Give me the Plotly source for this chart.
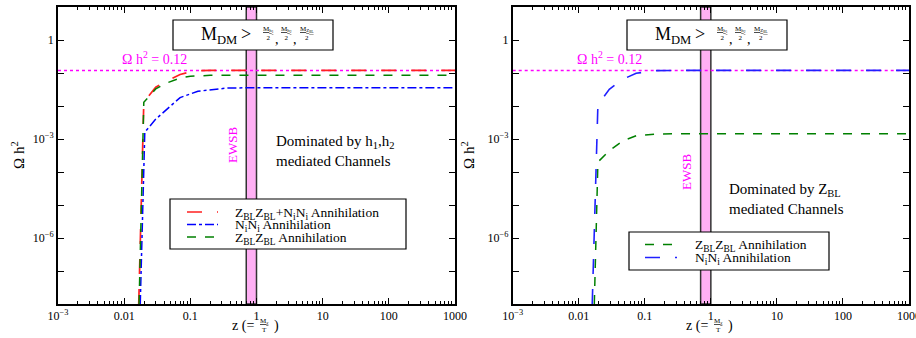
import plotly.graph_objects as go

# ---------------- data ----------------
# Left panel
z_tot_L = [0.0166, 0.0198, 0.03, 0.044, 0.07, 0.11, 0.2, 1, 10, 100, 1000]
om_tot_L = [1e-8, 0.013, 0.037, 0.057, 0.09, 0.115, 0.12, 0.12, 0.12, 0.12, 0.12]
z_nn_L = [0.0175, 0.0205, 0.03, 0.044, 0.07, 0.13, 0.36, 1, 10, 100, 1000]
om_nn_L = [1e-8, 0.0016, 0.004, 0.008, 0.018, 0.028, 0.035, 0.036, 0.036, 0.036, 0.036]
z_zz_L = [0.0168, 0.0198, 0.03, 0.044, 0.07, 0.1, 0.2, 1, 10, 100, 1000]
om_zz_L = [1e-8, 0.013, 0.033, 0.05, 0.07, 0.08, 0.085, 0.085, 0.085, 0.085, 0.085]
# Right panel
z_zz_R = [0.0172, 0.0195, 0.029, 0.046, 0.074, 0.15, 0.3, 1, 10, 100, 1000]
om_zz_R = [1e-8, 2e-4, 4.4e-4, 8.7e-4, 1.25e-3, 1.4e-3, 1.45e-3, 1.45e-3, 1.45e-3, 1.45e-3, 1.45e-3]
z_nn_R = [0.016, 0.0195, 0.029, 0.046, 0.074, 0.15, 0.3, 1, 10, 100, 1000]
om_nn_R = [1e-8, 0.011, 0.032, 0.064, 0.098, 0.118, 0.12, 0.12, 0.12, 0.12, 0.12]

relic = 0.12
z_range = [1e-3, 1e3]
ewsb_band = [0.7, 1.0]

x_tickvals = [1e-3, 0.01, 0.1, 1, 10, 100, 1000]
x_ticktext = ["10<sup>\u22123</sup>", "0.01", "0.1", "1", "10", "100", "1000"]
y_tickvals = [1e-8, 1e-7, 1e-6, 1e-5, 1e-4, 1e-3, 1e-2, 1e-1, 1, 10]
y_ticktext = ["", "", "10<sup>\u22126</sup>", "", "", "10<sup>\u22123</sup>", "", "", "1", ""]
x_minor = [m * 10 ** e for e in range(-3, 3) for m in range(2, 10)]

lab_tot = "Z<sub>BL</sub>Z<sub>BL</sub>+N<sub>i</sub>N<sub>i</sub> Annihilation"
lab_nn = "N<sub>i</sub>N<sub>i</sub> Annihilation"
lab_zz = "Z<sub>BL</sub>Z<sub>BL</sub> Annihilation"

FONT = "Liberation Serif"
W, H = 916, 338
RED, BLUE, GREEN, MAG = "#ff2020", "#0000ff", "#008000", "#ff00ff"


def px(x):
    return x / W


def py(y):
    return 1 - y / H


fig = go.Figure()

# Omega h^2 = 0.12 lines
for xa, ya in (("x", "y"), ("x2", "y2")):
    fig.add_trace(go.Scatter(x=z_range, y=[relic, relic], mode="lines",
                             line=dict(color=MAG, width=1.5, dash="dot"),
                             showlegend=False, xaxis=xa, yaxis=ya, hoverinfo="skip"))

styles = {
    "tot_L": dict(color=RED, width=1.7, dash="longdash"),
    "nn_L": dict(color=BLUE, width=1.5, dash="dashdot"),
    "zz_L": dict(color=GREEN, width=1.5, dash="dash"),
    "zz_R": dict(color=GREEN, width=1.5, dash="dash"),
    "nn_R": dict(color="#2020ff", width=1.6, dash="longdash"),
}

fig.add_trace(go.Scatter(x=z_tot_L, y=om_tot_L, mode="lines", name=lab_tot,
                         line=styles["tot_L"], xaxis="x", yaxis="y", showlegend=False))
fig.add_trace(go.Scatter(x=z_nn_L, y=om_nn_L, mode="lines", name=lab_nn,
                         line=styles["nn_L"], xaxis="x", yaxis="y", showlegend=False))
fig.add_trace(go.Scatter(x=z_zz_L, y=om_zz_L, mode="lines", name=lab_zz,
                         line=styles["zz_L"], xaxis="x", yaxis="y", showlegend=False))
fig.add_trace(go.Scatter(x=z_zz_R, y=om_zz_R, mode="lines", name=lab_zz,
                         line=styles["zz_R"], xaxis="x2", yaxis="y2", showlegend=False))
fig.add_trace(go.Scatter(x=z_nn_R, y=om_nn_R, mode="lines", name=lab_nn,
                         line=styles["nn_R"], xaxis="x2", yaxis="y2", showlegend=False))

axis_common = dict(type="log", showline=True, linecolor="black", linewidth=1.8,
                   mirror="ticks", ticks="inside", ticklen=6, tickwidth=1,
                   tickcolor="black", showgrid=False, zeroline=False, automargin=False,
                   ticklabeloverflow="allow",
                   tickfont=dict(family=FONT, size=12, color="black"))

xdomL = [px(58), px(455)]
xdomR = [px(512.7), px(909)]
ydom = [py(304), py(7)]

fig.update_layout(
    width=W, height=H, margin=dict(l=0, r=0, t=0, b=0),
    paper_bgcolor="white", plot_bgcolor="white", showlegend=False,
    font=dict(family=FONT, color="black"),
    xaxis=dict(domain=xdomL, range=[-3, 3], tickvals=x_tickvals, ticktext=x_ticktext,
               minor=dict(tickvals=x_minor, ticks="inside", ticklen=3, tickcolor="black"),
               anchor="y", **axis_common),
    yaxis=dict(domain=ydom, range=[-8, 1], tickvals=y_tickvals, ticktext=y_ticktext,
               anchor="x", **axis_common),
    xaxis2=dict(domain=xdomR, range=[-3, 3], tickvals=x_tickvals, ticktext=x_ticktext,
                minor=dict(tickvals=x_minor, ticks="inside", ticklen=3, tickcolor="black"),
                anchor="y2", **axis_common),
    yaxis2=dict(domain=ydom, range=[-8, 1], tickvals=y_tickvals, ticktext=y_ticktext,
                anchor="x2", **axis_common),
)

shapes = []
annotations = []


def ann(x, y, text, size, color="black", xanchor="center", yanchor="middle", **kw):
    annotations.append(dict(x=px(x), y=py(y), xref="paper", yref="paper", text=text,
                            showarrow=False, xanchor=xanchor, yanchor=yanchor,
                            font=dict(family=FONT, size=size, color=color), **kw))


for xa in ("x", "x2"):
    shapes.append(dict(type="rect", xref=xa, yref="y domain" if xa == "x" else "y2 domain",
                       x0=ewsb_band[0], x1=ewsb_band[1], y0=0, y1=1,
                       fillcolor="#ffb0f4", line=dict(color="#333333", width=1.5),
                       layer="below"))

# boxes with M_DM text
for (bx0, bx1) in [(173, 333), (627, 787)]:
    shapes.append(dict(type="rect", xref="paper", yref="paper",
                       x0=px(bx0), x1=px(bx1), y0=py(50), y1=py(20),
                       fillcolor="white", line=dict(color="black", width=1.2)))
    ann(bx0 + 26, 36, "M<sub>DM</sub>\u2009>", 18, xanchor="left")
    for fx, lab in ((bx0 + 95, "M<sub>h<sub>1</sub></sub>"), (bx0 + 113, "M<sub>h<sub>2</sub></sub>"),
                    (bx0 + 134, "M<sub>Z<sub>BL</sub></sub>")):
        ann(fx, 34, "<u>" + lab + "</u><br>2", 7)
    for cxx in (bx0 + 104, bx0 + 122):
        ann(cxx, 40, ",", 14)

# Omega h^2 = 0.12 labels
for cx in (154, 609):
    ann(cx, 58, "\u03a9 h<sup>2</sup> = 0.12", 14, color=MAG)

# EWSB labels
ann(232, 145, "EWSB", 13, color=MAG, textangle=-90)
ann(686, 172, "EWSB", 13, color=MAG, textangle=-90)

# Dominated texts
ann(274, 151, "Dominated by h<sub>1</sub>,h<sub>2</sub><br>mediated Channels", 15,
    xanchor="left", align="left")
ann(727, 199, "Dominated by Z<sub>BL</sub><br>mediated Channels", 15,
    xanchor="left", align="left")

# y titles
for cx in (18, 468):
    ann(cx, 155, "\u03a9 h<sup>2</sup>", 15, textangle=-90)

# x titles
for cx in (257, 711):
    ann(cx - 1, 326, "z (=", 14, xanchor="right")
    ann(cx + 7, 325, "<u>M<sub>\u03c7</sub></u><br>T", 7)
    ann(cx + 15, 326, ")", 14, xanchor="left")

# legends (drawn manually to match the tight row spacing)
legend_specs = [
    dict(box=(170, 406, 199, 249), line_x=(187, 218), text_x=233,
         rows=[(212, styles["tot_L"], lab_tot), (224.5, styles["nn_L"], lab_nn),
               (237, styles["zz_L"], lab_zz)]),
    dict(box=(629, 829, 232, 270), line_x=(645, 677), text_x=693,
         rows=[(244.5, styles["zz_R"], lab_zz), (257.5, styles["nn_R"], lab_nn)]),
]
for spec in legend_specs:
    x0, x1, y0, y1 = spec["box"]
    shapes.append(dict(type="rect", xref="paper", yref="paper", x0=px(x0), x1=px(x1),
                       y0=py(y1), y1=py(y0), fillcolor="white",
                       line=dict(color="black", width=1.2)))
    for ry, st, lab in spec["rows"]:
        shapes.append(dict(type="line", xref="paper", yref="paper",
                           x0=px(spec["line_x"][0]), x1=px(spec["line_x"][1]),
                           y0=py(ry), y1=py(ry),
                           line=dict(color=st["color"], width=st["width"], dash=st["dash"])))
        ann(spec["text_x"], ry + 1, lab, 13.5, xanchor="left")

fig.update_layout(shapes=shapes, annotations=annotations)
fig.write_html("out.html")
